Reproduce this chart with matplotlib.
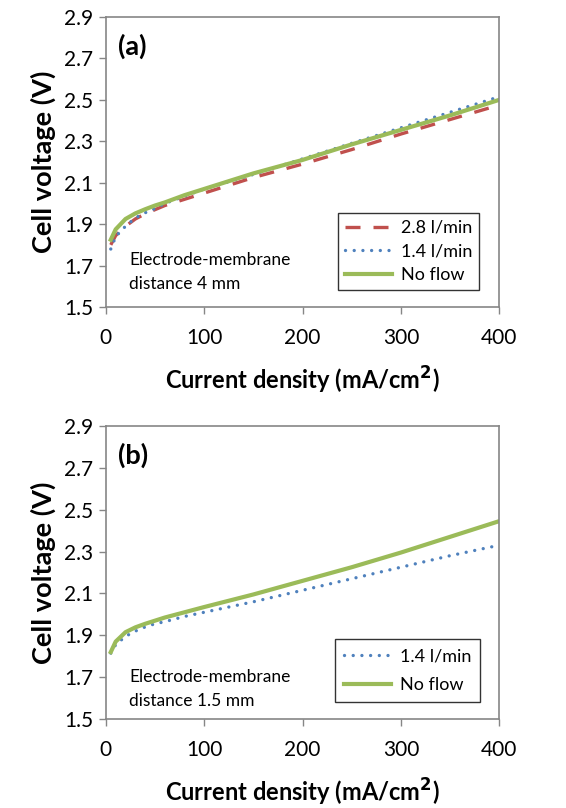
import matplotlib
matplotlib.use("Agg")
import matplotlib.pyplot as plt

plt.rcParams['font.family'] = ['Lato', 'DejaVu Sans']

# Panel (a): electrode-membrane distance 4 mm
x_a = [5, 10, 20, 30, 40, 50, 60, 80, 100, 150, 200, 250, 300, 350, 400]
a_28 = [1.80, 1.845, 1.89, 1.925, 1.95, 1.97, 1.99, 2.02, 2.05, 2.125, 2.19, 2.26, 2.335, 2.405, 2.475]
a_14 = [1.78, 1.84, 1.89, 1.93, 1.955, 1.975, 2.0, 2.035, 2.07, 2.14, 2.215, 2.29, 2.365, 2.44, 2.515]
a_nf = [1.825, 1.875, 1.925, 1.952, 1.972, 1.99, 2.005, 2.04, 2.07, 2.145, 2.21, 2.285, 2.355, 2.425, 2.50]

# Panel (b): electrode-membrane distance 1.5 mm
x_b = [5, 10, 20, 30, 40, 50, 60, 80, 100, 150, 200, 250, 300, 350, 400]
b_14 = [1.815, 1.855, 1.895, 1.92, 1.94, 1.955, 1.965, 1.99, 2.01, 2.06, 2.115, 2.17, 2.225, 2.28, 2.33]
b_nf = [1.82, 1.87, 1.915, 1.938, 1.955, 1.97, 1.985, 2.01, 2.035, 2.095, 2.16, 2.225, 2.295, 2.37, 2.445]

xticks = [0, 100, 200, 300, 400]
yticks = [1.5, 1.7, 1.9, 2.1, 2.3, 2.5, 2.7, 2.9]

RED = '#C0504D'
BLUE = '#4F81BD'
GREEN = '#9BBB59'
GRAY = '#868686'

DOT = (0, (0.01, 2.6))
DASH = (0, (4.5, 3.9))

fig = plt.figure(figsize=(5.66, 8.08), dpi=100)
ax1 = fig.add_axes([0.187, 0.620, 0.695, 0.359])
ax2 = fig.add_axes([0.187, 0.110, 0.695, 0.363])

def style(ax, label, note, note_y):
    ax.set_xlim(0, 400)
    ax.set_ylim(1.5, 2.9)
    ax.set_xticks(xticks)
    ax.set_yticks(yticks)
    ax.set_yticklabels([f"{v:.1f}" for v in yticks])
    ax.tick_params(axis='both', labelsize=15, direction='out', length=5,
                   color=GRAY, width=1, pad=4)
    ax.tick_params(axis='x', pad=10)
    for s in ax.spines.values():
        s.set_color(GRAY)
        s.set_linewidth(1.2)
    ax.set_xlabel('Current density (mA/cm$^\\mathbf{2}$)', fontsize=17,
                  fontweight='bold', labelpad=12)
    ax.set_ylabel('Cell voltage (V)', fontsize=19.5, fontweight='bold', labelpad=6)
    ax.text(0.03, 0.90, label, transform=ax.transAxes, fontsize=19.5,
            fontweight='bold', va='center', ha='left')
    ax.text(0.060, note_y, note, transform=ax.transAxes, fontsize=12.5,
            va='center', ha='left', linespacing=1.6)

ax1.plot(x_a, a_28, color=RED, lw=2.4, linestyle=DASH, label='2.8 l/min')
ax1.plot(x_a, a_14, color=BLUE, lw=2.4, linestyle=DOT,
         dash_capstyle='round', label='1.4 l/min')
ax1.plot(x_a, a_nf, color=GREEN, lw=3.0, label='No flow')
style(ax1, '(a)', 'Electrode-membrane\ndistance 4 mm', 0.121)
leg1 = ax1.legend(loc='lower right', bbox_to_anchor=(0.949, 0.058), fontsize=13,
                  frameon=True, fancybox=False, edgecolor='black',
                  handlelength=2.6, borderpad=0.4, labelspacing=0.42,
                  handletextpad=0.45, borderaxespad=0)
leg1.get_frame().set_linewidth(1.0)

ax2.plot(x_b, b_14, color=BLUE, lw=2.4, linestyle=DOT,
         dash_capstyle='round', label='1.4 l/min')
ax2.plot(x_b, b_nf, color=GREEN, lw=3.0, label='No flow')
style(ax2, '(b)', 'Electrode-membrane\ndistance 1.5 mm', 0.104)
leg2 = ax2.legend(loc='lower right', bbox_to_anchor=(0.951, 0.058), fontsize=13,
                  frameon=True, fancybox=False, edgecolor='black',
                  handlelength=2.6, borderpad=0.5, labelspacing=0.72,
                  handletextpad=0.45, borderaxespad=0)
leg2.get_frame().set_linewidth(1.0)

fig.savefig('out.png', dpi=100)
